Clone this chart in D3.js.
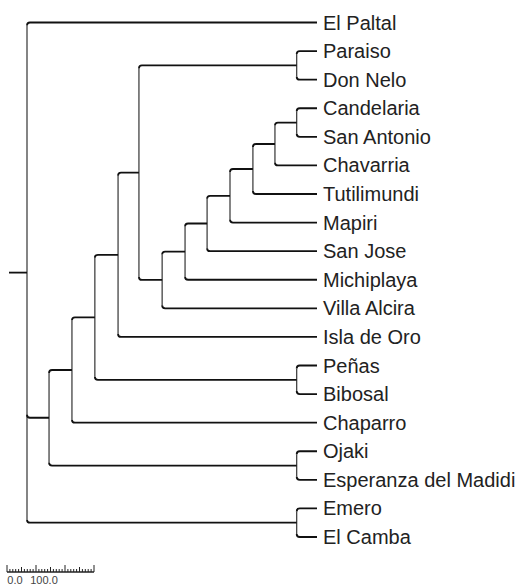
<!DOCTYPE html>
<html>
<head>
<meta charset="utf-8">
<script src="https://cdn.jsdelivr.net/npm/d3@7"></script>
<style>
  body { margin: 0; background: #fff; }
  svg { display: block; }
</style>
</head>
<body>
<div id="chart"></div>
<script>
// Dendrogram

// node ids, their parent and the merge height (distance units)
var nodeIds = ["root", "n924", "n845", "n766", "n686", "n614", "n534", "n455", "n379", "n300", "n221", "n145",
    "pCS", "pPD", "pPB", "pOE", "pEC",
    "El Paltal", "Paraiso", "Don Nelo", "Candelaria", "San Antonio", "Chavarria", "Tutilimundi",
    "Mapiri", "San Jose", "Michiplaya", "Villa Alcira", "Isla de Oro", "Peñas", "Bibosal",
    "Chaparro", "Ojaki", "Esperanza del Madidi", "Emero", "El Camba"];
var parentIds = ["", "root", "n924", "n845", "n766", "n686", "n614", "n534", "n455", "n379", "n300", "n221",
    "n145", "n614", "n766", "n924", "root",
    "root", "pPD", "pPD", "pCS", "pCS", "n145", "n221",
    "n300", "n379", "n455", "n534", "n686", "pPB", "pPB",
    "n845", "pOE", "pOE", "pEC", "pEC"];
var heights = [1000, 924, 845, 766, 686, 614, 534, 455, 379, 300, 221, 145,
    70, 70, 70, 70, 70,
    0, 0, 0, 0, 0, 0, 0, 0, 0, 0, 0, 0, 0, 0, 0, 0, 0, 0, 0];
// leaf order top to bottom
var leafOrder = ["El Paltal", "Paraiso", "Don Nelo", "Candelaria", "San Antonio", "Chavarria", "Tutilimundi",
    "Mapiri", "San Jose", "Michiplaya", "Villa Alcira", "Isla de Oro", "Peñas", "Bibosal",
    "Chaparro", "Ojaki", "Esperanza del Madidi", "Emero", "El Camba"];
var scaleTicks = [0, 100];

var svgWidth = 522, svgHeight = 586;

var svg = d3.select('#chart').append('svg')
    .attr('width', svgWidth)
    .attr('height', svgHeight);

var table = nodeIds.map(function(id, i) {
    return { id: id, parent: parentIds[i] || null, h: heights[i] };
});
var root = d3.stratify().id(d => d.id).parentId(d => d.parent)(table);

var xScale = d3.scaleLinear().domain([1000, 0]).range([27, 317]);
var yScale = d3.scalePoint().domain(leafOrder).range([22.5, 537]);

// y: leaves from scale, internal nodes midway between first and last child
root.eachAfter(function(n) {
    n.px = xScale(n.data.h);
    if (!n.children) {
        n.py = yScale(n.id);
    } else {
        n.children.sort((a, b) => a.py - b.py);
        n.py = (n.children[0].py + n.children[n.children.length - 1].py) / 2;
    }
});

var r = 3;
var g = svg.append('g');

// vertical connectors
root.descendants().filter(n => n.children).forEach(function(n) {
    var top = n.children[0].py, bot = n.children[n.children.length - 1].py;
    g.append('path')
        .attr('d', 'M' + n.px + ',' + (top + r) + 'L' + n.px + ',' + (bot - r))
        .attr('fill', 'none')
        .attr('stroke', '#333')
        .attr('stroke-width', 1.2);
});

// horizontal branches with rounded elbows
root.descendants().filter(n => n.parent).forEach(function(n) {
    var p = n.parent, x0 = p.px, y = n.py;
    var d;
    if (Math.abs(y - p.py) < 0.5) {
        d = 'M' + x0 + ',' + y + 'L' + n.px + ',' + y;
    } else {
        var s = y < p.py ? 1 : -1;
        d = 'M' + x0 + ',' + (y + s * r) + 'Q' + x0 + ',' + y + ' ' + (x0 + r) + ',' + y + 'L' + n.px + ',' + y;
    }
    g.append('path')
        .attr('d', d)
        .attr('fill', 'none')
        .attr('stroke', '#111')
        .attr('stroke-width', 1.8);
});

// root stem
g.append('line')
    .attr('x1', 9).attr('x2', root.px)
    .attr('y1', root.py).attr('y2', root.py)
    .attr('stroke', '#111')
    .attr('stroke-width', 1.8);

// labels
g.selectAll('text.leaf')
    .data(root.leaves())
    .enter().append('text')
        .attr('class', 'leaf')
        .attr('x', d => d.px + 6)
        .attr('y', d => d.py)
        .attr('dy', '0.35em')
        .attr('fill', '#222')
        .style('font-family', 'Liberation Sans, Arial, sans-serif')
        .style('font-size', '20px')
        .text(d => d.id);

// scale bar
var barScale = d3.scaleLinear().domain([0, 300]).range([7, 7 + 300 * 0.29]);
var bar = svg.append('g');
bar.append('line')
    .attr('x1', barScale(0)).attr('x2', barScale(300))
    .attr('y1', 572).attr('y2', 572)
    .attr('stroke', '#222').attr('stroke-width', 1.5);
bar.selectAll('line.tick')
    .data(d3.range(0, 301, 10))
    .enter().append('line')
        .attr('class', 'tick')
        .attr('x1', d => barScale(d)).attr('x2', d => barScale(d))
        .attr('y1', d => d % 100 === 0 ? 565 : (d % 50 === 0 ? 567 : 569))
        .attr('y2', 572)
        .attr('stroke', '#222').attr('stroke-width', 1);
bar.selectAll('text')
    .data(scaleTicks)
    .enter().append('text')
        .attr('x', d => barScale(d) + 8)
        .attr('y', 584)
        .attr('text-anchor', 'middle')
        .attr('fill', '#444')
        .style('font-family', 'Liberation Sans, Arial, sans-serif')
        .style('font-size', '11px')
        .text(d => d.toFixed(1));
</script>
</body>
</html>
